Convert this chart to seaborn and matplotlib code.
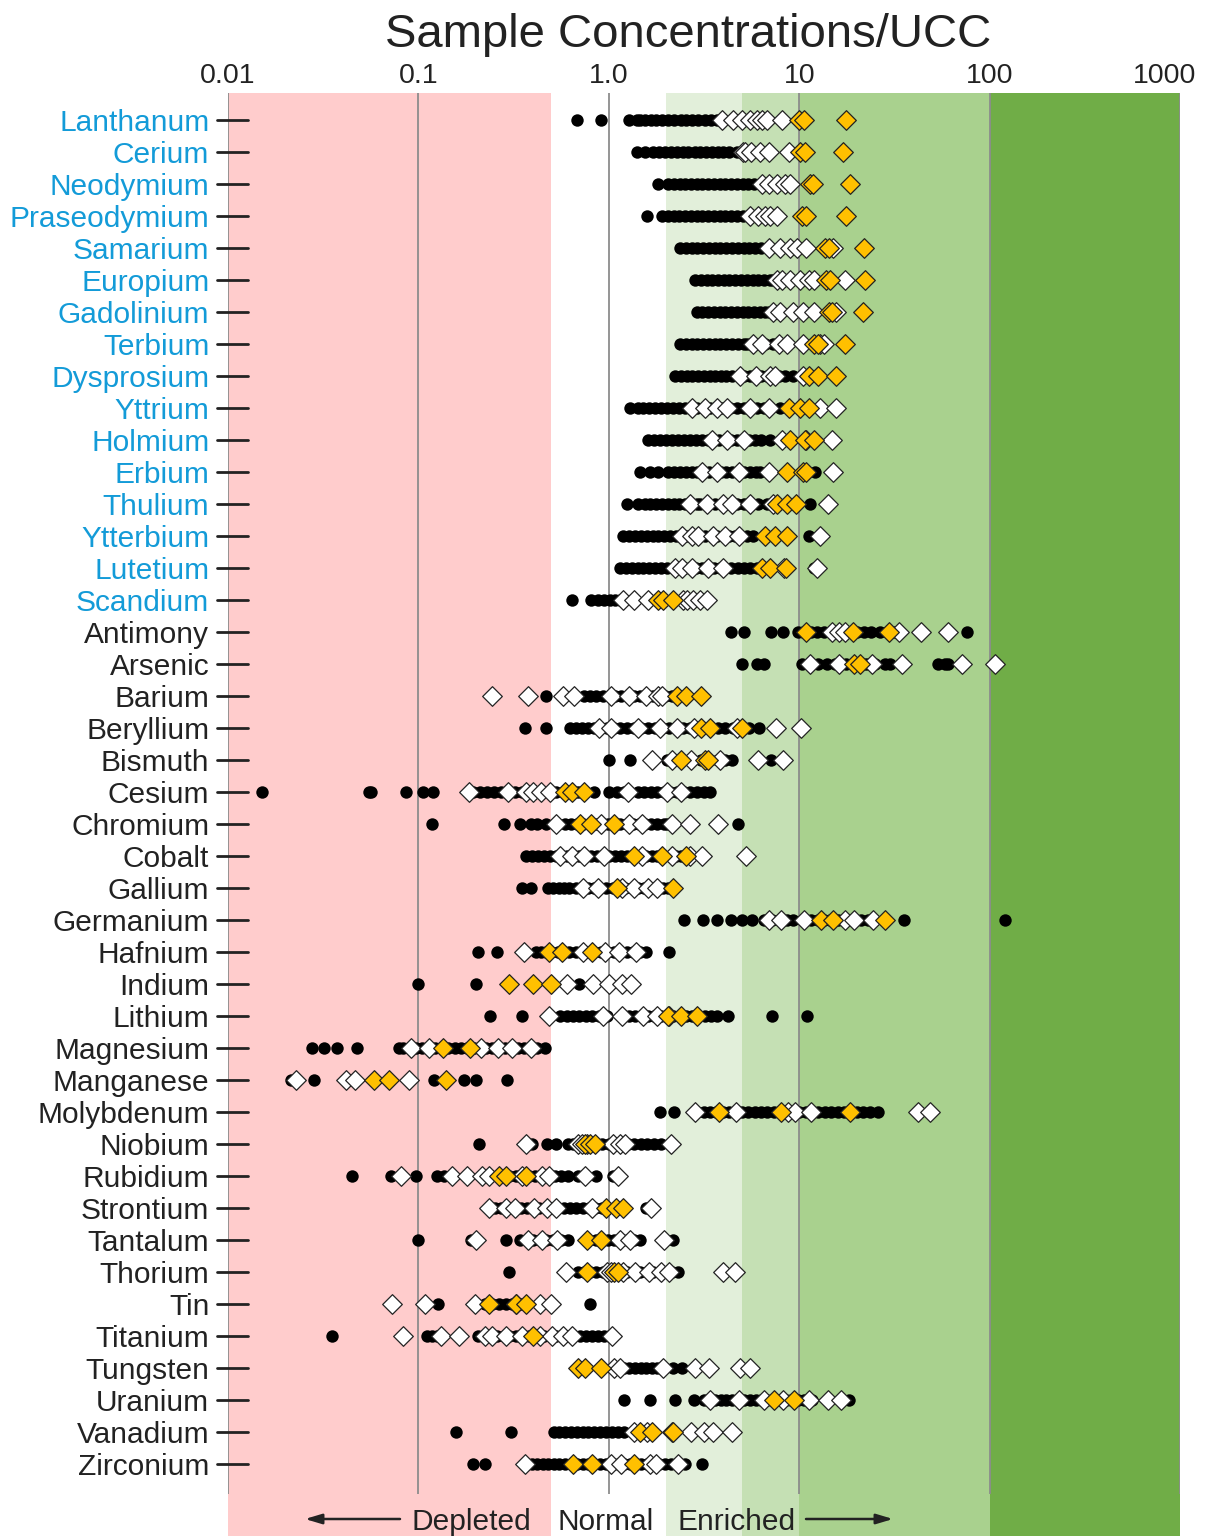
import pandas as pd
import matplotlib
matplotlib.use('Agg')
import matplotlib.pyplot as plt
import seaborn as sns
from matplotlib.ticker import NullLocator
from matplotlib.transforms import ScaledTranslation

# Element rows, top to bottom (first 16 are the rare earths, labelled in blue)
ELEMENTS = ['Lanthanum', 'Cerium', 'Neodymium', 'Praseodymium', 'Samarium', 'Europium',
            'Gadolinium', 'Terbium', 'Dysprosium', 'Yttrium', 'Holmium', 'Erbium',
            'Thulium', 'Ytterbium', 'Lutetium', 'Scandium', 'Antimony', 'Arsenic',
            'Barium', 'Beryllium', 'Bismuth', 'Cesium', 'Chromium', 'Cobalt', 'Gallium',
            'Germanium', 'Hafnium', 'Indium', 'Lithium', 'Magnesium', 'Manganese',
            'Molybdenum', 'Niobium', 'Rubidium', 'Strontium', 'Tantalum', 'Thorium',
            'Tin', 'Titanium', 'Tungsten', 'Uranium', 'Vanadium', 'Zirconium']
N_REE = 16

# sample / UCC ratios, black dots
DOTS = {
    'Lanthanum': [0.68, 0.91, 1.27, 1.40, 1.46, 1.55, 1.66, 1.78, 1.90, 2.05, 2.20, 2.38, 2.55, 2.75, 2.95, 3.20, 3.45, 3.70, 3.90],
    'Cerium': [1.40, 1.55, 1.71, 1.83, 1.97, 2.12, 2.28, 2.45, 2.62, 2.82, 3.02, 3.25, 3.5, 3.75, 4.0, 4.3, 4.7],
    'Neodymium': [1.82, 2.05, 2.2, 2.36, 2.52, 2.7, 2.9, 3.1, 3.33, 3.57, 3.82, 4.1, 4.4, 4.7, 5.05, 5.4, 5.8, 6.2],
    'Praseodymium': [1.59, 1.90, 2.04, 2.19, 2.35, 2.52, 2.7, 2.9, 3.1, 3.33, 3.57, 3.83, 4.1, 4.4, 4.7, 5.05, 5.4, 5.75],
    'Samarium': [2.37, 2.54, 2.72, 2.92, 3.13, 3.35, 3.6, 3.85, 4.12, 4.42, 4.75, 5.1, 5.45, 5.85, 6.3, 6.75],
    'Europium': [2.84, 3.05, 3.27, 3.5, 3.75, 4.02, 4.3, 4.62, 4.95, 5.3, 5.7, 6.1, 6.55, 7.0, 7.3],
    'Gadolinium': [2.89, 3.1, 3.32, 3.56, 3.82, 4.1, 4.4, 4.72, 5.05, 5.4, 5.8, 6.2, 6.65, 6.9],
    'Terbium': [2.37, 2.54, 2.72, 2.92, 3.13, 3.35, 3.6, 3.85, 4.12, 4.42, 4.75, 5.1, 5.3, 5.9, 6.6, 7.3, 8.2],
    'Dysprosium': [2.23, 2.39, 2.56, 2.75, 2.95, 3.16, 3.38, 3.62, 3.88, 4.15, 4.45, 4.8, 5.15, 5.5, 5.9, 6.3, 6.8, 7.3, 7.8, 8.4, 9.3],
    'Yttrium': [1.30, 1.42, 1.52, 1.63, 1.75, 1.88, 2.02, 2.17, 2.33, 2.5, 2.67, 2.9, 3.15, 3.4, 3.7, 4.0, 4.35, 4.7, 5.1, 5.5, 6.0, 6.5, 7.0, 7.9],
    'Holmium': [1.61, 1.73, 1.86, 2.0, 2.15, 2.3, 2.48, 2.66, 2.86, 3.07, 3.3, 3.55, 3.8, 4.1, 4.4, 4.7, 5.05, 5.45, 5.85, 6.3, 7.0],
    'Erbium': [1.46, 1.65, 1.82, 2.05, 2.2, 2.36, 2.53, 2.72, 2.92, 3.13, 3.36, 3.6, 3.87, 4.15, 4.45, 4.8, 5.15, 5.5, 5.9, 6.2, 12.1],
    'Thulium': [1.24, 1.43, 1.54, 1.65, 1.77, 1.9, 2.04, 2.19, 2.35, 2.52, 2.7, 2.9, 3.01, 3.3, 3.6, 3.95, 4.3, 4.7, 5.1, 5.6, 6.1, 6.75, 11.4],
    'Ytterbium': [1.19, 1.28, 1.37, 1.47, 1.58, 1.7, 1.82, 1.95, 2.1, 2.25, 2.42, 2.6, 2.8, 3.0, 3.22, 3.45, 3.7, 3.98, 4.27, 4.58, 4.92, 5.3, 5.74, 11.2],
    'Lutetium': [1.15, 1.23, 1.32, 1.42, 1.52, 1.63, 1.75, 1.88, 2.02, 2.17, 2.33, 2.5, 2.68, 2.88, 3.1, 3.33, 3.57, 3.83, 4.1, 4.4, 4.75, 5.1, 5.5, 5.98, 11.9],
    'Scandium': [0.64, 0.81, 0.88, 0.94, 1.01, 1.08, 1.15],
    'Antimony': [4.4, 5.15, 7.1, 8.2, 9.8, 10.5, 11.5, 12.4, 13.5, 14.5, 16, 18, 20, 22, 23.7, 26.6, 29, 31, 33, 76],
    'Arsenic': [5.0, 6.0, 6.5, 10.4, 11.5, 12.5, 14.0, 15.5, 17.6, 19, 21, 22.3, 25, 28.2, 29.9, 53.8, 58, 60.5],
    'Barium': [0.47, 0.745, 0.8, 0.86, 0.93, 1.0, 1.08, 1.16, 1.25, 1.35, 1.46, 1.57, 1.7, 1.83, 1.97, 2.14],
    'Beryllium': [0.364, 0.466, 0.625, 0.67, 0.72, 0.78, 0.84, 0.91, 0.98, 1.06, 1.15, 1.25, 1.36, 1.48, 1.6, 1.74, 1.9, 2.07, 2.25, 2.45, 2.67, 2.9, 3.15, 3.45, 3.75, 4.1, 4.5, 4.9, 5.45, 6.15],
    'Bismuth': [1.0, 1.3, 2.02, 2.2, 2.45, 2.75, 3.05, 3.4, 3.75, 4.1, 4.45, 7.1],
    'Cesium': [0.0151, 0.0548, 0.0565, 0.0861, 0.106, 0.119, 0.194, 0.21, 0.23, 0.25, 0.27, 0.295, 0.32, 0.35, 0.38, 0.41, 0.45, 0.49, 0.53, 0.58, 0.63, 0.69, 0.75, 0.84, 1.0, 1.1, 1.2, 1.42, 1.53, 1.66, 1.8, 1.95, 2.1, 2.28, 2.47, 2.67, 2.9, 3.15, 3.42],
    'Chromium': [0.1175, 0.28, 0.342, 0.391, 0.42, 0.466, 0.589, 0.63, 0.68, 0.73, 0.79, 0.85, 0.92, 0.99, 1.07, 1.15, 1.24, 1.34, 1.44, 1.55, 1.67, 1.8, 1.94, 2.02, 4.78],
    'Cobalt': [0.369, 0.395, 0.425, 0.455, 0.49, 0.525, 0.565, 0.605, 0.65, 0.7, 0.75, 0.81, 0.87, 0.93, 1.0, 1.08, 1.16, 1.25, 1.35, 1.45, 1.56, 1.68, 1.8, 1.94, 2.1, 2.25, 2.40],
    'Gallium': [0.349, 0.392, 0.48, 0.51, 0.545, 0.58, 0.62, 0.67, 0.72, 0.78, 0.84, 0.9, 0.97, 1.05, 1.13, 1.22, 1.32, 1.42, 1.53, 1.65, 1.78, 1.92, 2.05, 2.19],
    'Germanium': [2.49, 3.13, 3.72, 4.37, 4.99, 5.67, 6.54, 7.2, 7.9, 8.6, 9.23, 10.5, 11.5, 12.5, 13.5, 14.6, 16, 17.5, 19, 21, 23.1, 35.6, 121],
    'Hafnium': [0.206, 0.259, 0.415, 0.44, 0.47, 0.5, 0.54, 0.58, 0.62, 0.67, 0.72, 0.78, 0.84, 0.91, 0.98, 1.06, 1.15, 1.24, 1.34, 1.45, 1.56, 2.07],
    'Indium': [0.0998, 0.2, 0.696],
    'Lithium': [0.238, 0.349, 0.553, 0.6, 0.65, 0.7, 0.76, 0.82, 0.89, 0.98, 1.17, 1.27, 1.37, 1.48, 1.6, 1.73, 1.87, 2.02, 2.18, 2.36, 2.55, 2.75, 2.98, 3.2, 3.45, 3.68, 4.25, 7.21, 11.0],
    'Magnesium': [0.0275, 0.0318, 0.0372, 0.0475, 0.0793, 0.083, 0.09, 0.097, 0.105, 0.113, 0.122, 0.132, 0.143, 0.155, 0.167, 0.18, 0.195, 0.21, 0.227, 0.245, 0.265, 0.286, 0.31, 0.335, 0.36, 0.39, 0.42, 0.465],
    'Manganese': [0.0215, 0.0284, 0.045, 0.121, 0.173, 0.2, 0.291],
    'Molybdenum': [1.85, 2.19, 2.92, 3.15, 3.4, 3.67, 3.96, 4.28, 4.62, 5.0, 5.4, 5.83, 6.3, 6.8, 7.35, 7.95, 8.6, 9.3, 10.0, 10.8, 11.7, 12.6, 13.6, 14.7, 15.9, 17.2, 18.6, 20.1, 21.7, 23.5, 26.0],
    'Niobium': [0.208, 0.394, 0.475, 0.527, 0.61, 0.65, 0.925, 1.0, 1.08, 1.17, 1.26, 1.36, 1.47, 1.59, 1.72, 1.88],
    'Rubidium': [0.0446, 0.0715, 0.0976, 0.125, 0.136, 0.277, 0.3, 0.325, 0.35, 0.38, 0.41, 0.44, 0.48, 0.52, 0.56, 0.61, 0.692, 0.852, 1.05],
    'Strontium': [0.234, 0.253, 0.273, 0.295, 0.32, 0.345, 0.372, 0.4, 0.43, 0.465, 0.5, 0.54, 0.58, 0.625, 0.675, 0.73, 0.79, 0.85, 0.92, 0.99, 1.07, 1.15, 1.19, 1.56],
    'Tantalum': [0.0999, 0.19, 0.288, 0.34, 0.37, 0.4, 0.435, 0.47, 0.51, 0.56, 0.61, 0.852, 0.92, 0.99, 1.07, 1.16, 1.25, 1.35, 1.46, 2.17],
    'Thorium': [0.298, 0.69, 0.74, 0.8, 0.86, 0.93, 1.0, 1.08, 1.16, 1.25, 1.35, 1.46, 1.58, 1.7, 1.84, 1.98, 2.14, 2.31],
    'Tin': [0.1265, 0.225, 0.245, 0.265, 0.287, 0.31, 0.34, 0.37, 0.80],
    'Titanium': [0.0352, 0.1106, 0.118, 0.125, 0.2065, 0.22, 0.24, 0.26, 0.28, 0.3, 0.325, 0.35, 0.38, 0.41, 0.4375, 0.456, 0.49, 0.53, 0.57, 0.61, 0.66, 0.71, 0.76, 0.82, 0.88, 0.94, 1.006],
    'Tungsten': [1.05, 1.12, 1.2, 1.28, 1.37, 1.47, 1.57, 1.68, 1.8, 1.96, 2.18, 2.41],
    'Uranium': [1.20, 1.64, 2.23, 2.81, 3.15, 3.38, 3.62, 3.88, 4.15, 4.45, 4.77, 5.1, 5.5, 5.9, 6.31, 6.8, 7.3, 7.9, 8.5, 9.1, 9.8, 10.6, 11.7, 18.3],
    'Vanadium': [0.1585, 0.305, 0.515, 0.55, 0.59, 0.635, 0.68, 0.73, 0.78, 0.84, 0.9, 0.97, 1.04, 1.12, 1.20],
    'Zirconium': [0.1935, 0.224, 0.393, 0.42, 0.45, 0.48, 0.515, 0.55, 0.59, 0.635, 0.68, 0.73, 0.78, 0.84, 0.9, 0.97, 1.04, 1.12, 1.2, 1.29, 1.38, 1.48, 1.59, 1.71, 1.84, 1.98, 2.13, 2.3, 2.5, 3.08],
}

# white diamonds
OPEN = {
    'Lanthanum': [3.95, 4.5, 5.0, 5.5, 6.0, 6.35, 6.75, 8.1],
    'Cerium': [5.05, 5.2, 5.6, 6.2, 6.9, 8.8],
    'Neodymium': [6.35, 6.9, 7.6, 8.4, 8.9],
    'Praseodymium': [5.5, 6.1, 6.6, 7.0, 7.6],
    'Samarium': [6.9, 7.9, 8.9, 9.7, 10.9, 15.1],
    'Europium': [7.6, 8.1, 8.9, 10.1, 11.2, 11.9, 17.3],
    'Gadolinium': [7.3, 7.9, 9.3, 10.5, 11.9, 15.7],
    'Terbium': [5.7, 6.35, 7.8, 8.6, 10.5, 12.8, 13.5],
    'Dysprosium': [4.9, 5.9, 7.0, 7.5, 10.5],
    'Yttrium': [2.72, 3.2, 3.7, 4.16, 5.5, 6.9, 12.8, 15.7],
    'Holmium': [3.47, 4.16, 5.1, 8.1, 10.9, 14.8],
    'Erbium': [3.07, 3.7, 4.8, 6.9, 15.1],
    'Thulium': [2.67, 3.27, 4.0, 4.42, 5.5, 7.3, 14.2],
    'Ytterbium': [2.41, 2.72, 2.95, 3.54, 4.07, 4.8, 12.8],
    'Lutetium': [2.23, 2.41, 2.72, 3.33, 3.96, 8.3, 12.4],
    'Scandium': [1.19, 1.36, 1.61, 2.45, 2.56, 2.78, 3.01, 3.27],
    'Antimony': [14.8, 16.2, 17.5, 33.6, 43.8, 60.5],
    'Arsenic': [11.4, 16.2, 24.1, 34.7, 72, 107],
    'Barium': [0.245, 0.376, 0.573, 0.655, 1.03, 1.28, 1.57, 1.82, 1.90],
    'Beryllium': [0.888, 1.03, 1.42, 1.85, 2.27, 2.79, 4.72, 7.55, 10.2],
    'Bismuth': [1.69, 2.14, 2.71, 3.85, 6.08, 8.24],
    'Cesium': [0.1845, 0.297, 0.369, 0.402, 0.44, 0.494, 1.26, 2.02, 2.38],
    'Chromium': [0.531, 0.914, 1.28, 1.49, 2.14, 2.67, 3.74],
    'Cobalt': [0.556, 0.643, 0.745, 0.942, 1.49, 2.14, 2.67, 3.08, 5.25],
    'Gallium': [0.736, 0.875, 1.17, 1.35, 1.60, 1.80],
    'Germanium': [6.92, 7.99, 10.6, 17.4, 19.5, 24.5],
    'Hafnium': [0.36, 0.736, 0.954, 1.13, 1.39],
    'Indium': [0.603, 0.826, 1.0, 1.17, 1.31],
    'Lithium': [0.487, 0.927, 1.17, 1.51, 1.80, 2.07],
    'Magnesium': [0.0916, 0.114, 0.214, 0.262, 0.311, 0.392],
    'Manganese': [0.0228, 0.0417, 0.0467, 0.0889],
    'Molybdenum': [2.84, 4.63, 8.71, 9.49, 11.6, 42.3, 48.8],
    'Niobium': [0.366, 0.692, 0.721, 0.767, 1.05, 1.14, 1.21, 2.13],
    'Rubidium': [0.081, 0.151, 0.179, 0.216, 0.234, 0.348, 0.447, 0.485, 0.751, 1.12],
    'Strontium': [0.234, 0.288, 0.32, 0.406, 0.475, 0.527, 0.816, 1.66],
    'Tantalum': [0.2, 0.378, 0.4465, 0.534, 1.14, 1.29, 1.94],
    'Thorium': [0.597, 0.984, 1.03, 1.19, 1.37, 1.62, 1.88, 2.08, 3.97, 4.60],
    'Tin': [0.0723, 0.108, 0.198, 0.327, 0.4375, 0.495],
    'Titanium': [0.0833, 0.131, 0.164, 0.225, 0.244, 0.288, 0.348, 0.4375, 0.505, 0.573, 0.637, 1.035],
    'Tungsten': [1.07, 1.14, 1.92, 2.85, 3.36, 4.89, 5.54],
    'Uranium': [3.41, 4.82, 6.56, 8.27, 11.3, 14.2, 16.6],
    'Vanadium': [1.35, 1.58, 2.14, 2.71, 3.15, 3.54, 4.46],
    'Zirconium': [0.364, 1.03, 1.16, 1.64, 1.77, 2.32],
}

# gold diamonds
GOLD = {
    'Lanthanum': [10.0, 10.6, 17.6],
    'Cerium': [10.1, 10.7, 17.0],
    'Neodymium': [11.4, 11.8, 18.5],
    'Praseodymium': [10.4, 10.9, 17.6],
    'Samarium': [13.7, 14.4, 21.9],
    'Europium': [13.9, 14.6, 22.2],
    'Gadolinium': [14.4, 14.8, 21.6],
    'Terbium': [11.9, 12.6, 17.5],
    'Dysprosium': [11.2, 12.6, 15.6],
    'Yttrium': [8.8, 10.1, 11.3],
    'Holmium': [8.9, 10.7, 11.9],
    'Erbium': [8.6, 10.5, 10.9],
    'Thulium': [7.6, 8.6, 9.6],
    'Ytterbium': [6.6, 7.5, 8.6],
    'Lutetium': [6.35, 7.0, 8.5],
    'Scandium': [1.82, 1.93, 2.18],
    'Antimony': [10.9, 19.1, 29.6],
    'Arsenic': [19.3, 20.8],
    'Barium': [2.27, 2.55, 3.04],
    'Beryllium': [3.04, 3.38, 5.01],
    'Bismuth': [2.40, 3.22, 3.32],
    'Cesium': [0.589, 0.643, 0.745],
    'Chromium': [0.703, 0.804, 1.06],
    'Cobalt': [1.36, 1.90, 2.55],
    'Gallium': [1.10, 2.17],
    'Germanium': [13.0, 15.0, 28.3],
    'Hafnium': [0.487, 0.569, 0.812],
    'Indium': [0.299, 0.398, 0.498],
    'Lithium': [2.05, 2.39, 2.92],
    'Magnesium': [0.134, 0.186],
    'Manganese': [0.0582, 0.070, 0.139],
    'Molybdenum': [3.79, 7.99, 18.4],
    'Niobium': [0.751, 0.80, 0.845],
    'Rubidium': [0.266, 0.288, 0.367],
    'Strontium': [0.964, 1.09, 1.19],
    'Tantalum': [0.767, 0.906],
    'Thorium': [0.767, 1.07, 1.12],
    'Tin': [0.234, 0.327, 0.366],
    'Titanium': [0.402],
    'Tungsten': [0.686, 0.751, 0.906],
    'Uranium': [7.37, 9.44],
    'Vanadium': [1.46, 1.68, 2.18],
    'Zirconium': [0.649, 0.818, 1.35],
}

TICK_VALUES = [0.01, 0.1, 1, 10, 100, 1000]
TICK_LABELS = ['0.01', '0.1', '1.0', '10', '100', '1000']

ZONE_EDGES = [0.01, 0.5, 2, 5, 10, 100, 1000]
ZONE_COLORS = ['#ffcccc', '#ffffff', '#e2efda', '#c5e0b4', '#a9d18e', '#70ad47']

TEXT = '#222222'
REE_BLUE = '#139bd8'


def to_frame(series):
    rows = [(v, i) for i, name in enumerate(ELEMENTS) for v in series[name]]
    return pd.DataFrame(rows, columns=['ratio', 'row'])


sns.set_style('white')
plt.rcParams['font.family'] = ['Liberation Sans', 'DejaVu Sans']

W, H = 1209, 1536
fig = plt.figure(figsize=(W / 100, H / 100), dpi=100)
ax = fig.add_axes([228 / W, 0, 952 / W, 1443 / H])
ax.set_xscale('log')

# background zones + decade lines
for lo, hi, c in zip(ZONE_EDGES[:-1], ZONE_EDGES[1:], ZONE_COLORS):
    ax.axvspan(lo, hi, color=c, lw=0, zorder=0)
ax.vlines(TICK_VALUES, -0.85, 42.95, color='#8c8c8c', lw=1.3, zorder=1)

sns.scatterplot(data=to_frame(DOTS), x='ratio', y='row', color='black', marker='o',
                s=80, linewidth=0, ax=ax, zorder=2, legend=False)
sns.scatterplot(data=to_frame(OPEN), x='ratio', y='row', color='white', marker='D',
                s=100, edgecolor=TEXT, linewidth=0.9, ax=ax, zorder=3, legend=False)
sns.scatterplot(data=to_frame(GOLD), x='ratio', y='row', color='#ffc000', marker='D',
                s=100, edgecolor=TEXT, linewidth=0.9, ax=ax, zorder=4, legend=False)

ax.set_xlim(0.01, 1000)
ax.set_ylim(44.25, -0.84375)
ax.set_xlabel('')
ax.set_ylabel('')
for sp in ax.spines.values():
    sp.set_visible(False)

# x ticks on top
ax.xaxis.tick_top()
ax.set_xticks(TICK_VALUES, TICK_LABELS)
ax.xaxis.set_minor_locator(NullLocator())
ax.tick_params(axis='x', length=0, pad=3, labelsize=20.5, labelcolor=TEXT)
last = ax.get_xticklabels()[-1]
last.set_transform(last.get_transform() + ScaledTranslation(-0.15, 0, fig.dpi_scale_trans))

# element labels + dash ticks
ax.set_yticks(range(len(ELEMENTS)), ELEMENTS)
ax.tick_params(axis='y', length=0, pad=13.5, labelsize=21.5)
for i, lab in enumerate(ax.get_yticklabels()):
    lab.set_color(REE_BLUE if i < N_REE else TEXT)
for i in range(len(ELEMENTS)):
    ax.plot([-11 / 952, 20 / 952], [i, i], transform=ax.get_yaxis_transform(),
            color=TEXT, lw=2, clip_on=False, zorder=5)

fig.text(688 / W, 1 - 47 / H, 'Sample Concentrations/UCC', ha='center', va='baseline',
         fontsize=34, color=TEXT)

# bottom key
yb = 1 - 1530 / H
fig.text(471.5 / W, yb, 'Depleted', ha='center', va='baseline', fontsize=21.5, color=TEXT)
fig.text(606 / W, yb, 'Normal', ha='center', va='baseline', fontsize=21.5, color=TEXT)
fig.text(737 / W, yb, 'Enriched', ha='center', va='baseline', fontsize=21.5, color=TEXT)
ya = 1 - 1519 / H
arrow = dict(arrowstyle='-|>,head_length=1.0,head_width=0.3', color=TEXT, lw=1.8,
             shrinkA=0, shrinkB=0)
ax.annotate('', xy=(305 / W, ya), xytext=(400 / W, ya), xycoords='figure fraction',
            textcoords='figure fraction', arrowprops=arrow)
ax.annotate('', xy=(893 / W, ya), xytext=(806 / W, ya), xycoords='figure fraction',
            textcoords='figure fraction', arrowprops=arrow)

fig.savefig('out.png', dpi=100)
